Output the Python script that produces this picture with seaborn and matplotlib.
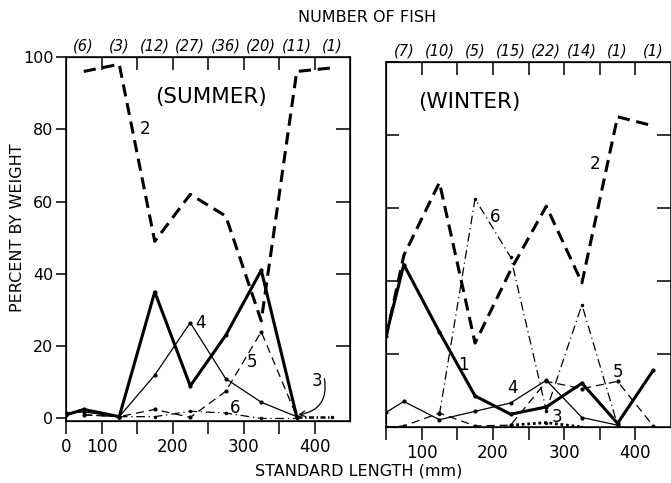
import numpy as np
import seaborn as sns
import matplotlib
matplotlib.use('Agg')
import matplotlib.pyplot as plt
import matplotlib.transforms as mtransforms

nan = np.nan

# standard length (mm): 0 is the axis start, the rest are class midpoints
lengths = [0, 50, 125, 175, 225, 275, 325, 375, 425]
bin_edges = [100, 150, 200, 250, 300, 350, 400]
bin_mids = [50, 125, 175, 225, 275, 325, 375, 425]

summer_1 = [1, 2.5, 0.5, 35, 9, 23, 41, 0.5, nan]
summer_2 = [nan, 96, 98, 49, 62, 56, 27, 96, 97]
summer_3 = [nan, nan, nan, nan, nan, nan, nan, 0.5, 0.5]
summer_4 = [1.5, 1.8, 0.5, 12, 26.5, 11, 4.5, 0.5, nan]
summer_5 = [nan, 1, 0.5, 2.5, 0.3, 7.5, 24, 0.5, nan]
summer_6 = [nan, 1, 0.5, 0.5, 2, 1.5, 0, 0, nan]

winter_1 = [25, 44.5, 26, 8.5, 3.5, 5.5, 12, 1, 15.5]
winter_2 = [24.5, 47, 67, 23, 43, 60.5, 39.5, 85, 82.5]
winter_3 = [nan, nan, nan, nan, 0.5, 1.2, 0, nan, nan]
winter_4 = [4, 7, 2, 4.3, 6.6, 12.8, 2.6, 0.5, nan]
winter_5 = [0, 0.3, 3.8, 0.3, 0.5, 12.5, 10.5, 12.5, 0.3]
winter_6 = [nan, nan, 3.5, 62.5, 46.5, 4.5, 33.5, 0.5, nan]

summer_counts = ['(6)', '(3)', '(12)', '(27)', '(36)', '(20)', '(11)', '(1)']
winter_counts = ['(7)', '(10)', '(5)', '(15)', '(22)', '(14)', '(1)', '(1)']

styles = {
    '1': dict(linestyle='-', linewidth=2.2, marker='o', markersize=3),
    '2': dict(linestyle=(0, (4, 2.2)), linewidth=2.2),
    '3': dict(linestyle=(0, (2, 1, 0.6, 1)), linewidth=1.8, marker='o', markersize=2.5),
    '4': dict(linestyle='-', linewidth=0.9, marker='o', markersize=3),
    '5': dict(linestyle=(0, (6.5, 4)), linewidth=0.9, marker='o', markersize=3),
    '6': dict(linestyle=(0, (7, 3, 1, 3)), linewidth=0.9, marker='o', markersize=2.5),
}
winter_3_style = dict(linestyle=(0, (1, 1)), linewidth=2.0, marker='o', markersize=2.5)


# first class (0-100 mm) is drawn the same width as the 50 mm classes
def fwd(x):
    x = np.asarray(x, dtype=float)
    return np.where(x < 100, x / 2, x - 50)


def inv(u):
    u = np.asarray(u, dtype=float)
    return np.where(u < 50, u * 2, u + 50)


sns.set_style('ticks')
plt.rcParams['font.family'] = ['DejaVu Sans']
for k in ['text.color', 'axes.labelcolor', 'xtick.color', 'ytick.color', 'axes.edgecolor']:
    plt.rcParams[k] = 'black'

fig = plt.figure(figsize=(6.71, 4.83), dpi=100)
W, H = 671, 483


def px_axes(left, right, top, bottom):
    return fig.add_axes([left / W, 1 - bottom / H, (right - left) / W, (bottom - top) / H])


def setup_panel(ax, series, counts, ylim, xlabels, left_labels, overrides=None):
    ax.set_xscale('function', functions=(fwd, inv))
    for key, vals in series.items():
        st = (overrides or {}).get(key, styles[key])
        sns.lineplot(x=lengths, y=vals, ax=ax, color='black', markeredgewidth=0, **st)
    ax.set_xlim(0, 450)
    ax.set_ylim(*ylim)
    ticks = [0] + bin_edges
    ax.set_xticks(ticks)
    ax.set_xticklabels([xlabels.get(t, '') for t in ticks], fontsize=12)
    ax.tick_params(axis='x', direction='out', length=9, width=1.1, pad=3)
    ax.set_yticks([0, 20, 40, 60, 80, 100])
    if left_labels:
        ax.tick_params(axis='y', direction='out', length=7, width=1.1, labelsize=11.5, pad=2)
    else:
        ax.tick_params(axis='y', direction='in', length=9, width=1.1, labelleft=False)
    for sp in ax.spines.values():
        sp.set_visible(True)
        sp.set_linewidth(1.1)

    axt = ax.twiny()
    axt.set_xscale('function', functions=(fwd, inv))
    axt.set_xlim(0, 450)
    axt.set_xticks(bin_edges)
    axt.tick_params(axis='x', direction='in', length=9, width=1.1, labeltop=False)

    axr = ax.twinx()
    axr.set_ylim(*ylim)
    axr.set_yticks([20, 40, 60, 80])
    axr.tick_params(axis='y', direction='in', length=10, width=1.1, labelright=False)

    trans = mtransforms.blended_transform_factory(ax.transData, ax.transAxes)
    for m, c in zip(bin_mids, counts):
        ax.text(m, 1.01, c, transform=trans, ha='center', va='bottom',
                fontsize=10.5, style='italic')


ax_s = px_axes(66, 350, 57, 421)
setup_panel(ax_s,
            {'6': summer_6, '5': summer_5, '4': summer_4, '3': summer_3,
             '2': summer_2, '1': summer_1},
            summer_counts, (-0.7, 100),
            {0: '0', 100: '100', 200: '200', 300: '300', 400: '400'}, True)

ax_w = px_axes(386, 671, 62, 427)
setup_panel(ax_w,
            {'6': winter_6, '5': winter_5, '4': winter_4, '3': winter_3,
             '2': winter_2, '1': winter_1},
            winter_counts, (0, 100),
            {100: '100', 200: '200', 300: '300', 400: '400'}, False,
            overrides={'3': winter_3_style})

lab = dict(fontsize=12, ha='center', va='center')
ax_s.text(161, 80, '2', **lab)
ax_s.text(239, 26.5, '4', **lab)
ax_s.text(312, 15.5, '5', **lab)
ax_s.text(288, 2.8, '6', **lab)
ax_s.text(403, 10.5, '3', **lab)
ax_s.annotate('', xy=(377, 1.0), xytext=(414, 11),
              arrowprops=dict(arrowstyle='->', connectionstyle='arc3,rad=-0.5',
                              lw=0.9, color='black', shrinkA=0, shrinkB=0))

ax_w.text(344, 72, '2', **lab)
ax_w.text(203, 57.5, '6', **lab)
ax_w.text(158, 17, '1', **lab)
ax_w.text(227, 10.8, '4', **lab)
ax_w.text(290, 2.8, '3', **lab)
ax_w.text(376, 15, '5', **lab)

fig.text(211 / W, 1 - 97 / H, '(SUMMER)', fontsize=15.5, ha='center', va='center')
fig.text(469 / W, 1 - 102 / H, '(WINTER)', fontsize=15.5, ha='center', va='center')
fig.text(367 / W, 1 - 18 / H, 'NUMBER OF FISH', fontsize=11.5, ha='center', va='center')
fig.text(359 / W, 1 - 471 / H, 'STANDARD LENGTH (mm)', fontsize=11.5, ha='center', va='center')
fig.text(18 / W, 1 - 228 / H, 'PERCENT BY WEIGHT', fontsize=11.5, ha='center', va='center',
         rotation=90)

fig.savefig('out.png', dpi=100)
